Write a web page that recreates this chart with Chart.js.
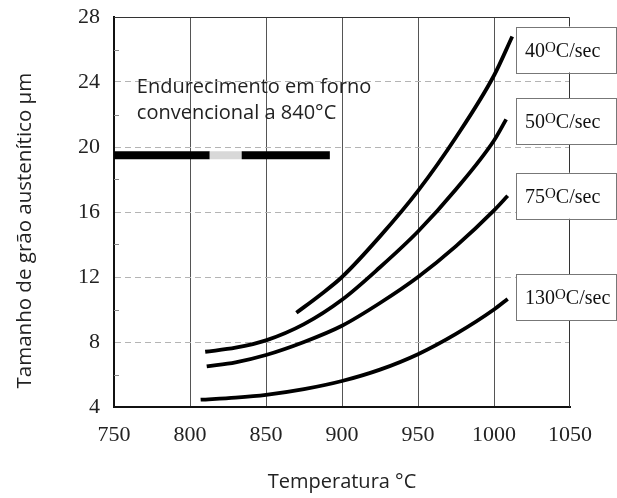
<!DOCTYPE html>
<html>
<head>
<meta charset="utf-8">
<script src="https://cdn.jsdelivr.net/npm/chart.js@4/dist/chart.umd.min.js"></script>
<style>
html,body{margin:0;padding:0;background:#fff;}
#wrap{width:617px;height:498px;}
</style>
</head>
<body>
<div id="wrap"><canvas id="c" width="617" height="498"></canvas></div>
<script>
// ---- data ----
const rates = [40, 50, 75, 130];
const labelValues = [26.0, 21.6, 17.0, 10.75]; // y value at which each rate box sits
const t40 = [870, 885, 900, 925, 950, 975, 1000, 1012];
const g40 = [9.8, 10.85, 12.0, 14.5, 17.3, 20.6, 24.4, 26.8];
const t50 = [810, 830, 850, 875, 900, 925, 950, 975, 1000, 1008];
const g50 = [7.4, 7.65, 8.1, 9.1, 10.6, 12.6, 14.8, 17.4, 20.4, 21.7];
const t75 = [811, 830, 850, 875, 900, 925, 950, 975, 1000, 1009];
const g75 = [6.5, 6.75, 7.2, 8.0, 9.0, 10.4, 12.0, 13.9, 16.1, 17.0];
const t130 = [807, 830, 850, 875, 900, 925, 950, 975, 1000, 1009];
const g130 = [4.45, 4.58, 4.75, 5.1, 5.6, 6.3, 7.25, 8.5, 10.0, 10.65];
const furnaceT = [750, 813, 834, 892];
const furnaceG = [19.5, 19.5, 19.5, 19.5];
const furnaceText = ["Endurecimento em forno", "convencional a 840°C"];
const xTicks = [750, 800, 850, 900, 950, 1000, 1050];
const yTicks = [4, 8, 12, 16, 20, 24, 28];
const yMinor = [6, 10, 14, 18, 22, 26];
const xTitle = "Temperatura °C";
const yTitle = "Tamanho de grão austenítico µm";

const pts = (xs, ys) => xs.map((x, i) => ({x: x, y: ys[i]}));
const curveSets = [[t40, g40], [t50, g50], [t75, g75], [t130, g130]];

const datasets = curveSets.map((s, i) => ({
  label: rates[i] + "°C/sec",
  data: pts(s[0], s[1]),
  borderColor: '#000',
  borderWidth: 3.8,
  pointRadius: 0,
  cubicInterpolationMode: 'monotone',
  fill: false
}));
datasets.push({
  label: furnaceText.join(' '),
  data: pts(furnaceT, furnaceG),
  borderColor: '#000',
  borderWidth: 8,
  pointRadius: 0,
  borderCapStyle: 'butt',
  segment: {
    borderColor: ctx => ctx.p0.parsed.x === furnaceT[1] ? '#d8d8d8' : '#000'
  }
});

const deco = {
  id: 'deco',
  beforeDatasetsDraw(chart) {
    const {ctx, chartArea: a, scales: {y}} = chart;
    ctx.save();
    ctx.strokeStyle = '#333';
    ctx.lineWidth = 1;
    ctx.beginPath();
    ctx.moveTo(a.left, a.top + 0.5);
    ctx.lineTo(a.right - 0.5, a.top + 0.5);
    ctx.lineTo(a.right - 0.5, a.bottom);
    ctx.stroke();
    ctx.strokeStyle = '#888';
    yMinor.forEach(v => {
      const py = Math.round(y.getPixelForValue(v)) + 0.5;
      ctx.beginPath();
      ctx.moveTo(a.left, py);
      ctx.lineTo(a.left + 5, py);
      ctx.stroke();
    });
    ctx.restore();
  },
  afterDatasetsDraw(chart) {
    const {ctx, chartArea: a, scales: {x, y}} = chart;
    ctx.save();
    // annotation text
    ctx.fillStyle = '#222';
    ctx.font = '20px "Open Sans"';
    ctx.textBaseline = 'middle';
    ctx.textAlign = 'left';
    ctx.fillText(furnaceText[0], x.getPixelForValue(765), y.getPixelForValue(23.7));
    ctx.fillText(furnaceText[1], x.getPixelForValue(765), y.getPixelForValue(22.1));
    // rate boxes
    rates.forEach((r, i) => {
      const cy = y.getPixelForValue(labelValues[i]);
      const bx = a.right - 54, bw = 100, bh = 46;
      ctx.fillStyle = '#fff';
      ctx.fillRect(bx, cy - bh / 2, bw, bh);
      ctx.strokeStyle = '#777';
      ctx.lineWidth = 1;
      ctx.strokeRect(bx + 0.5, Math.round(cy - bh / 2) + 0.5, bw, bh);
      ctx.fillStyle = '#111';
      ctx.textBaseline = 'alphabetic';
      let tx = bx + 9;
      const base = cy + 7;
      ctx.font = '20px "Liberation Serif"';
      const num = String(r);
      ctx.fillText(num, tx, base);
      tx += ctx.measureText(num).width;
      ctx.font = '15px "Liberation Serif"';
      ctx.fillText('O', tx, base - 5);
      tx += ctx.measureText('O').width;
      ctx.font = '20px "Liberation Serif"';
      ctx.fillText('C/sec', tx, base);
    });
    ctx.restore();
  }
};

new Chart(document.getElementById('c'), {
  type: 'line',
  data: {datasets: datasets},
  options: {
    responsive: false,
    animation: false,
    layout: {padding: {left: 0, right: 47, top: 17, bottom: 0}},
    plugins: {legend: {display: false}, tooltip: {enabled: false}},
    scales: {
      x: {
        type: 'linear',
        min: 750, max: 1050,
        afterBuildTicks: s => { s.ticks = xTicks.map(v => ({value: v})); },
        afterFit: s => { s.height = 91; s.paddingLeft = 0; s.paddingRight = 0; },
        ticks: {color: '#222', font: {family: '"Liberation Serif"', size: 22}, padding: 15, maxRotation: 0,
                callback: v => String(v)},
        grid: {
          drawTicks: false,
          color: c => (c.tick && (c.tick.value === 750 || c.tick.value === 1050)) ? 'rgba(0,0,0,0)' : '#555',
          lineWidth: 1
        },
        border: {display: true, color: '#111', width: 2},
        title: {display: true, text: xTitle, color: '#222', font: {family: '"Open Sans"', size: 20}, padding: {top: 0, bottom: 4}}
      },
      y: {
        type: 'linear',
        min: 4, max: 28,
        afterBuildTicks: s => { s.ticks = yTicks.map(v => ({value: v})); },
        afterFit: s => { s.width = 114; s.paddingTop = 0; s.paddingBottom = 0; },
        ticks: {color: '#222', font: {family: '"Liberation Serif"', size: 22}, padding: 14,
                callback: v => String(v)},
        grid: {
          drawTicks: false,
          color: c => (c.tick && (c.tick.value === 4 || c.tick.value === 28)) ? 'rgba(0,0,0,0)' : '#b4b4b4',
          lineWidth: 1
        },
        border: {display: true, color: '#111', width: 2, dash: [6, 4]},
        title: {display: true, text: yTitle + "       ", color: '#222', font: {family: '"Open Sans"', size: 20.5}, padding: {top: 13, bottom: 0}}
      }
    }
  },
  plugins: [deco]
});
</script>
</body>
</html>
